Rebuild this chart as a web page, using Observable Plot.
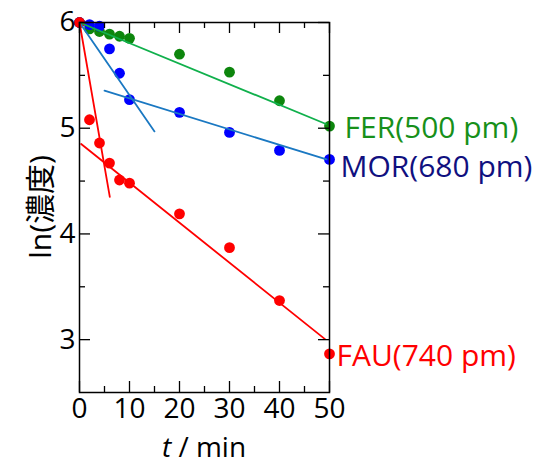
<!DOCTYPE html>
<html>
<head>
<meta charset="utf-8">
<script src="https://cdn.jsdelivr.net/npm/d3@7"></script>
<script src="https://cdn.jsdelivr.net/npm/@observablehq/plot@0.6"></script>
<style>
  body { margin: 0; background: #fff; }
</style>
</head>
<body>
<div id="chart"></div>
<script>
// ---- data ----
const times = [0, 2, 4, 6, 8, 10, 20, 30, 40, 50];
const ferValues = [6.00, 5.94, 5.915, 5.89, 5.87, 5.85, 5.70, 5.53, 5.26, 5.02];
const morValues = [6.00, 5.98, 5.965, 5.75, 5.52, 5.27, 5.15, 4.96, 4.79, 4.705];
const fauValues = [6.00, 5.08, 4.86, 4.67, 4.51, 4.48, 4.19, 3.87, 3.37, 2.865];

// fitted lines (x endpoints, y endpoints)
const ferFitX = [0, 49.3];      const ferFitY = [6.00, 5.04];
const morFit1X = [0, 15];       const morFit1Y = [6.00, 4.97];
const morFit2X = [5, 49.4];     const morFit2Y = [5.355, 4.705];
const fauFit1X = [0, 6.06];     const fauFit1Y = [6.00, 4.35];
const fauFit2X = [0.33, 49.1];  const fauFit2Y = [4.85, 3.005];

const seriesNames = ["FER(500 pm)", "MOR(680 pm)", "FAU(740 pm)"];
const labelX = [50, 50, 50];
const labelY = [5.00, 4.63, 2.84];

const xMajor = [0, 10, 20, 30, 40, 50];
const xMinor = [5, 15, 25, 35, 45];
const yMajor = [3, 4, 5, 6];
const yMinor = [3.5, 4.5, 5.5];

// ---- styles ----
const dotColors = ["#0d860d", "#0000ff", "#ff0000"];
const lineColors = ["#10b04c", "#1a78c2", "#ff0000"];
const labelColors = ["#17901a", "#10107f", "#ff0000"];
const labelDx = [15, 11, 7];

const W = 547, H = 465;
const mL = 79, mR = 218, mT = 22, mB = 73;
const innerW = W - mL - mR, innerH = H - mT - mB;
const FONT = "'Open Sans', 'Noto Sans', 'Noto Sans CJK JP', sans-serif";
const FS = 30;      // series labels, y title
const TFS = 28;     // tick labels, x title

const pts = (xs, ys) => xs.map((x, i) => ({x, y: ys[i]}));
const series = [ferValues, morValues, fauValues];
const fits = [
  [pts(ferFitX, ferFitY), 0],
  [pts(morFit1X, morFit1Y), 1],
  [pts(morFit2X, morFit2Y), 1],
  [pts(fauFit1X, fauFit1Y), 2],
  [pts(fauFit2X, fauFit2Y), 2]
];

const major = 11, minor = 6;

const chart = Plot.plot({
  width: W, height: H,
  marginLeft: mL, marginRight: mR, marginTop: mT, marginBottom: mB,
  style: {fontFamily: FONT, fontSize: FS + "px", color: "#000", background: "#fff", overflow: "visible"},
  x: {domain: [0, 50]},
  y: {domain: [2.5, 6]},
  marks: [
    // dots
    ...series.map((vals, i) => Plot.dot(pts(times, vals), {x: "x", y: "y", r: 5.4, fill: dotColors[i], stroke: "none"})),
    // fit lines
    ...fits.map(([d, i]) => Plot.line(d, {x: "x", y: "y", stroke: lineColors[i], strokeWidth: 1.8})),
    // inward ticks
    Plot.tickX(xMajor, {x: d => d, insetTop: innerH - major, stroke: "#000", strokeWidth: 1.3}),
    Plot.tickX(xMinor, {x: d => d, insetTop: innerH - minor, stroke: "#000", strokeWidth: 1.3}),
    Plot.tickX(xMajor, {x: d => d, insetBottom: innerH - major, stroke: "#000", strokeWidth: 1.3}),
    Plot.tickX(xMinor, {x: d => d, insetBottom: innerH - minor, stroke: "#000", strokeWidth: 1.3}),
    Plot.tickY(yMajor, {y: d => d, insetRight: innerW - major, stroke: "#000", strokeWidth: 1.3}),
    Plot.tickY(yMinor, {y: d => d, insetRight: innerW - minor, stroke: "#000", strokeWidth: 1.3}),
    Plot.tickY(yMajor, {y: d => d, insetLeft: innerW - major, stroke: "#000", strokeWidth: 1.3}),
    Plot.tickY(yMinor, {y: d => d, insetLeft: innerW - minor, stroke: "#000", strokeWidth: 1.3}),
    Plot.frame({stroke: "#000", strokeWidth: 1.5}),
    // axes labels
    Plot.axisX({ticks: xMajor, tickSize: 0, tickPadding: 6, tickFormat: d3.format("d"), label: null, fontSize: TFS, fill: "#000"}),
    Plot.axisY({ticks: yMajor, tickSize: 0, tickPadding: 4, tickFormat: d3.format("d"), label: null, fontSize: TFS, fill: "#000"}),
    // series labels
    ...seriesNames.map((name, i) => Plot.text([{x: labelX[i], y: labelY[i], t: name}], {
      x: "x", y: "y", text: "t", textAnchor: "start", dx: labelDx[i], fill: labelColors[i], fontSize: FS
    }))
  ]
});

const svg = d3.select(chart);
const xs = chart.scale("x"), ys = chart.scale("y");
// x-axis title with italic t
const xt = svg.append("text")
  .attr("x", (xs.apply(0) + xs.apply(50)) / 2)
  .attr("y", 456.5)
  .attr("text-anchor", "middle")
  .attr("font-size", TFS)
  .attr("fill", "#000");
xt.append("tspan").attr("font-style", "italic").text("t");
xt.append("tspan").text(" / min");
// y-axis title
svg.append("text")
  .attr("transform", `translate(51,${(ys.apply(2.5) + ys.apply(6)) / 2}) rotate(-90)`)
  .attr("text-anchor", "middle")
  .attr("font-size", FS)
  .attr("fill", "#000")
  .text("ln(濃度)");

document.getElementById("chart").appendChild(chart);
</script>
</body>
</html>
